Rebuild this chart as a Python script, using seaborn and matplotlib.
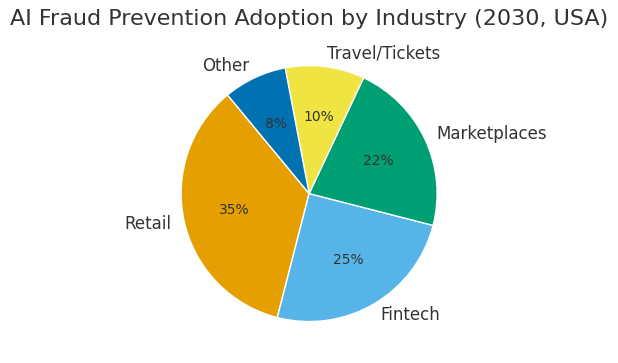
import matplotlib
matplotlib.use("Agg")
import matplotlib.pyplot as plt
import seaborn as sns

industries = ["Retail", "Fintech", "Marketplaces", "Travel/Tickets", "Other"]
shares = [35, 25, 22, 10, 8]
colors = ["#E69F00", "#56B4E9", "#009E73", "#F0E442", "#0072B2"]

sns.set_style("white")
plt.rcParams['font.family'] = ['DejaVu Sans']
palette = sns.color_palette(colors)

fig = plt.figure(figsize=(6.18, 3.63), dpi=100)
ax = fig.add_axes([0.2412, 0.0260, 0.518, 0.8815])
wedges, texts, autotexts = ax.pie(
    shares, labels=industries, colors=palette, autopct="%1.0f%%",
    startangle=129.6, counterclock=True,
    textprops={"color": "#333333", "fontsize": 12},
)
for t in autotexts:
    t.set_fontsize(10)
    t.set_color("#333333")
ax.set_aspect("equal")
fig.suptitle("AI Fraud Prevention Adoption by Industry (2030, USA)",
             fontsize=16, color="#333333", y=0.974, va="top")
fig.savefig("out.png", dpi=100)
